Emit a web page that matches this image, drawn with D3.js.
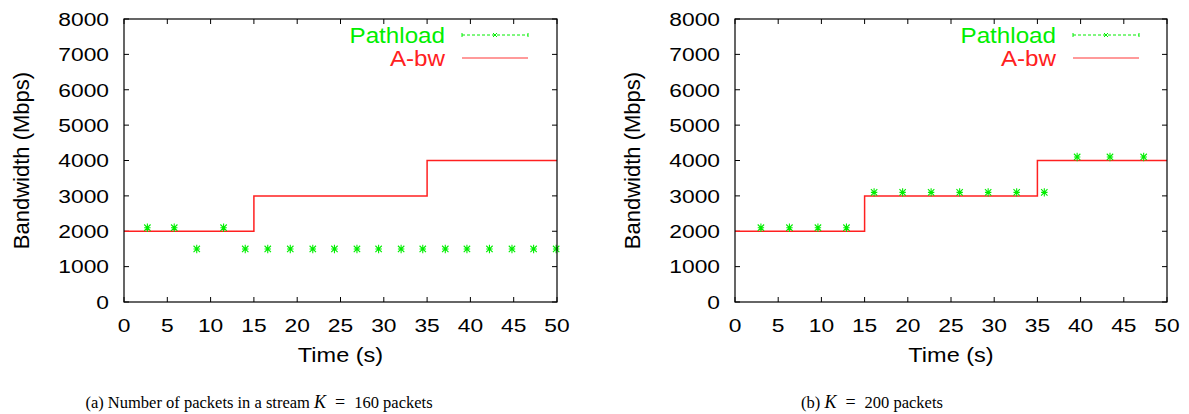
<!DOCTYPE html>
<html><head><meta charset="utf-8">
<script src="https://cdn.jsdelivr.net/npm/d3@7"></script>
<style>body{margin:0;background:#fff}svg{display:block}</style>
</head><body>
<script>
// ---- data ----
const xTicks = [0,5,10,15,20,25,30,35,40,45,50];
const yTicks = [0,1000,2000,3000,4000,5000,6000,7000,8000];
const abwTimes = [0,15,35,50];
const abwValues = [2000,3000,4000,4000];
const pathloadTimesA = [2.7,5.8,8.4,11.5,14.0,16.6,19.2,21.8,24.3,26.9,29.4,32.0,34.5,37.1,39.6,42.2,44.8,47.3,49.9];
const pathloadValuesA = [2100,2100,1500,2100,1500,1500,1500,1500,1500,1500,1500,1500,1500,1500,1500,1500,1500,1500,1500];
const pathloadTimesB = [3.0,6.3,9.6,12.9,16.1,19.4,22.7,26.0,29.3,32.6,35.8,39.6,43.4,47.3];
const pathloadValuesB = [2100,2100,2100,2100,3100,3100,3100,3100,3100,3100,3100,4100,4100,4100];
const seriesNames = ["Pathload","A-bw"];
const captionA = ["(a) Number of packets in a stream ","K"," = ","160 packets"];
const captionB = ["(b) ","K"," = ","200 packets"];

const W = 1189, H = 414;
const svg = d3.select("body").append("svg").attr("width",W).attr("height",H);
const GREEN = "#00ee00", RED = "#ff2020";

function stext(g, x, y, str, size, sx, anchor, color){
  return g.append("text").attr("transform",`translate(${x},${y}) scale(${sx},1)`)
    .attr("font-family","Liberation Sans, Arial, sans-serif").attr("font-size",size)
    .attr("text-anchor",anchor).attr("dominant-baseline","central").attr("fill",color||"#000").text(str);
}

function panel(x0, x1, times, vals, caption, capX){
  const top = 19, bot = 302;
  const x = d3.scaleLinear().domain([0,50]).range([x0,x1]);
  const y = d3.scaleLinear().domain([0,8000]).range([bot,top]);
  const g = svg.append("g");
  const tl = 5;
  const tk = g.append("g").attr("stroke","#000").attr("stroke-width",1);
  xTicks.forEach(t=>{
    tk.append("line").attr("x1",x(t)).attr("x2",x(t)).attr("y1",bot).attr("y2",bot-tl);
    tk.append("line").attr("x1",x(t)).attr("x2",x(t)).attr("y1",top).attr("y2",top+tl);
  });
  yTicks.forEach(t=>{
    tk.append("line").attr("x1",x0).attr("x2",x0+tl).attr("y1",y(t)).attr("y2",y(t));
    tk.append("line").attr("x1",x1).attr("x2",x1-tl).attr("y1",y(t)).attr("y2",y(t));
  });
  xTicks.forEach(t=> stext(g, x(t), 325, String(t), 19, 1.2, "middle"));
  yTicks.forEach(t=> stext(g, x0-15, y(t), String(t), 19, 1.2, "end"));
  stext(g, (x0+x1)/2, 355, "Time (s)", 21, 1.12, "middle");
  g.append("text").attr("transform",`translate(${x0-103},${(top+bot)/2}) rotate(-90)`)
    .attr("font-family","Liberation Sans, Arial, sans-serif").attr("font-size",22)
    .attr("text-anchor","middle").attr("dominant-baseline","central").text("Bandwidth (Mbps)");
  const line = d3.line().x(d=>x(d[0])).y(d=>y(d[1])).curve(d3.curveStepAfter);
  g.append("path").datum(abwTimes.map((t,i)=>[t,abwValues[i]]))
    .attr("d",line).attr("fill","none").attr("stroke",RED).attr("stroke-width",1.5);
  const s = 3.2;
  const pts = g.append("g").attr("stroke",GREEN).attr("stroke-width",1.1);
  times.forEach((t,i)=>{
    const px = x(t), py = y(vals[i]);
    pts.append("path").attr("d",`M${px-s},${py-s}L${px+s},${py+s}M${px-s},${py+s}L${px+s},${py-s}M${px-s},${py}L${px+s},${py}M${px},${py-s-1}L${px},${py+s+1}`);
  });
  g.append("rect").attr("x",x0).attr("y",top).attr("width",x1-x0).attr("height",bot-top)
    .attr("fill","none").attr("stroke","#000").attr("stroke-width",1.2);
  const lx = x0 + 321, la = x0+338, lb = x0+404;
  stext(g, lx, 35, seriesNames[0], 22, 1.1, "end", GREEN);
  stext(g, lx, 58, seriesNames[1], 22, 1.1, "end", RED);
  const lg = g.append("g");
  lg.append("line").attr("x1",la).attr("x2",lb).attr("y1",35).attr("y2",35)
    .attr("stroke",GREEN).attr("stroke-width",1).attr("stroke-dasharray","3,2");
  lg.append("line").attr("x1",la).attr("x2",la).attr("y1",33).attr("y2",37).attr("stroke",GREEN);
  lg.append("line").attr("x1",lb).attr("x2",lb).attr("y1",33).attr("y2",37).attr("stroke",GREEN);
  const mx=(la+lb)/2;
  lg.append("path").attr("d",`M${mx-2},33L${mx+2},37M${mx-2},37L${mx+2},33`).attr("stroke",GREEN);
  lg.append("line").attr("x1",la).attr("x2",lb).attr("y1",58).attr("y2",58)
    .attr("stroke",RED).attr("stroke-width",1.5).attr("opacity",0.6);
  const c = g.append("text").attr("x",capX).attr("y",408).attr("text-anchor","middle")
    .attr("font-family","Liberation Serif, Times New Roman, serif").attr("font-size",16.5)
    .attr("xml:space","preserve");
  c.append("tspan").text(caption[0]);
  c.append("tspan").attr("font-style","italic").attr("font-size",18).text(caption[1]);
  c.append("tspan").attr("font-size",18).text("\u2002=\u2002");
  c.append("tspan").text(caption[3]);
}

panel(124, 557, pathloadTimesA, pathloadValuesA, captionA, 259);
panel(735, 1167, pathloadTimesB, pathloadValuesB, captionB, 872);
</script>
</body></html>
